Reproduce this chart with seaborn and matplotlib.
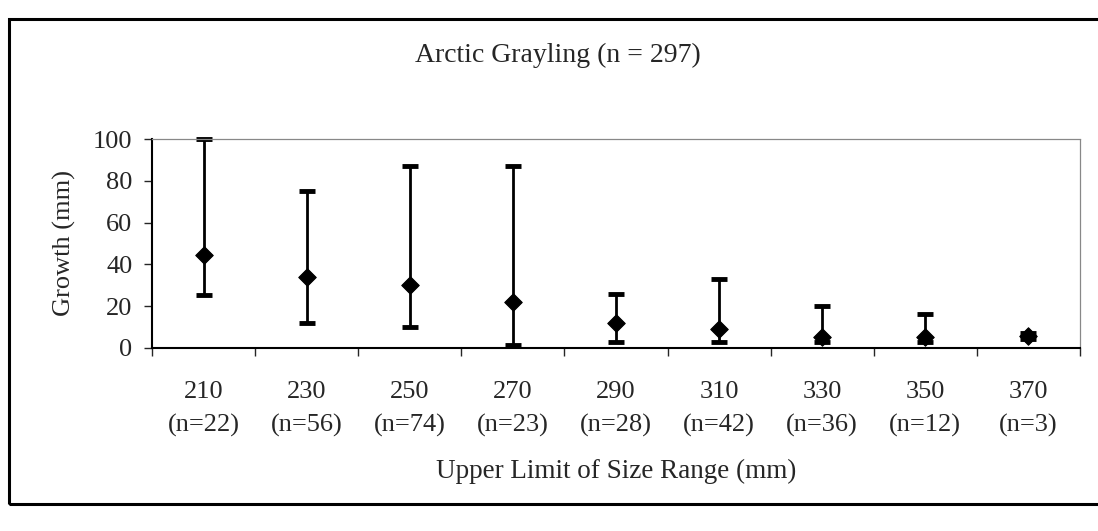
import matplotlib
matplotlib.use("Agg")
import matplotlib.pyplot as plt
import seaborn as sns
import numpy as np
from matplotlib.patches import Rectangle

sns.set_theme(style="white")
plt.rcParams['font.family'] = ['Liberation Serif', 'DejaVu Serif']

# size class upper limits and sample sizes
size_limits = ['210', '230', '250', '270', '290', '310', '330', '350', '370']
n_fish = [22, 56, 74, 23, 28, 42, 36, 12, 3]
# mean growth (mm) with min / max range
growth_mean = [44.5, 34, 30, 22, 12, 9, 5, 5, 5.5]
growth_low = [25.5, 12, 10, 1.5, 3, 3, 3, 3, 4]
growth_high = [100, 75, 87, 87, 26, 33, 20, 16, 7]

fig = plt.figure(figsize=(10.98, 5.31), dpi=100)
ax = fig.add_axes([0.1384, 0.345, 0.8452, 0.393])

x = np.arange(len(size_limits))
mean = np.array(growth_mean)
yerr = [mean - np.array(growth_low), np.array(growth_high) - mean]
ax.errorbar(x, mean, yerr=yerr, fmt='none', ecolor='black', elinewidth=2,
            capsize=5.5, capthick=3.5, zorder=2, clip_on=False)
sns.scatterplot(x=x, y=mean, marker='D', s=80, color='black', edgecolor='black',
                ax=ax, zorder=3, clip_on=False)

ax.set_xlim(-0.5, len(size_limits) - 0.5)
ax.set_ylim(0, 100)
ax.set_yticks([0, 20, 40, 60, 80, 100])
ax.set_xticks(x)
ax.set_xticklabels([f"{s}\n(n={n})" for s, n in zip(size_limits, n_fish)], linespacing=1.6)
ax.set_xticks(np.arange(len(size_limits) + 1) - 0.5, minor=True)
ax.tick_params(axis='x', which='major', length=0, pad=24, labelsize=19)
ax.tick_params(axis='x', which='minor', length=6, width=1, direction='out', bottom=True)
ax.tick_params(axis='y', length=6, width=1, direction='out', left=True, labelsize=19, pad=8)

for side in ['top', 'right']:
    ax.spines[side].set_color('#888888')
    ax.spines[side].set_linestyle((0, (2, 1)))
    ax.spines[side].set_linewidth(0.9)
for side in ['left', 'bottom']:
    ax.spines[side].set_color('black')
    ax.spines[side].set_linewidth(1.5)

ax.set_ylabel('Growth (mm)', fontsize=19, labelpad=12)
ax.set_xlabel('Upper Limit of Size Range (mm)', fontsize=19.5, labelpad=16)
fig.text(0.508, 0.896, 'Arctic Grayling (n = 297)', ha='center', va='center', fontsize=20)

# outer frame
fig.patches.append(Rectangle((0.008, 0.05), 1.1, 0.915, transform=fig.transFigure,
                             fill=False, edgecolor='black', linewidth=2.2))

fig.savefig('out.png', dpi=100)
